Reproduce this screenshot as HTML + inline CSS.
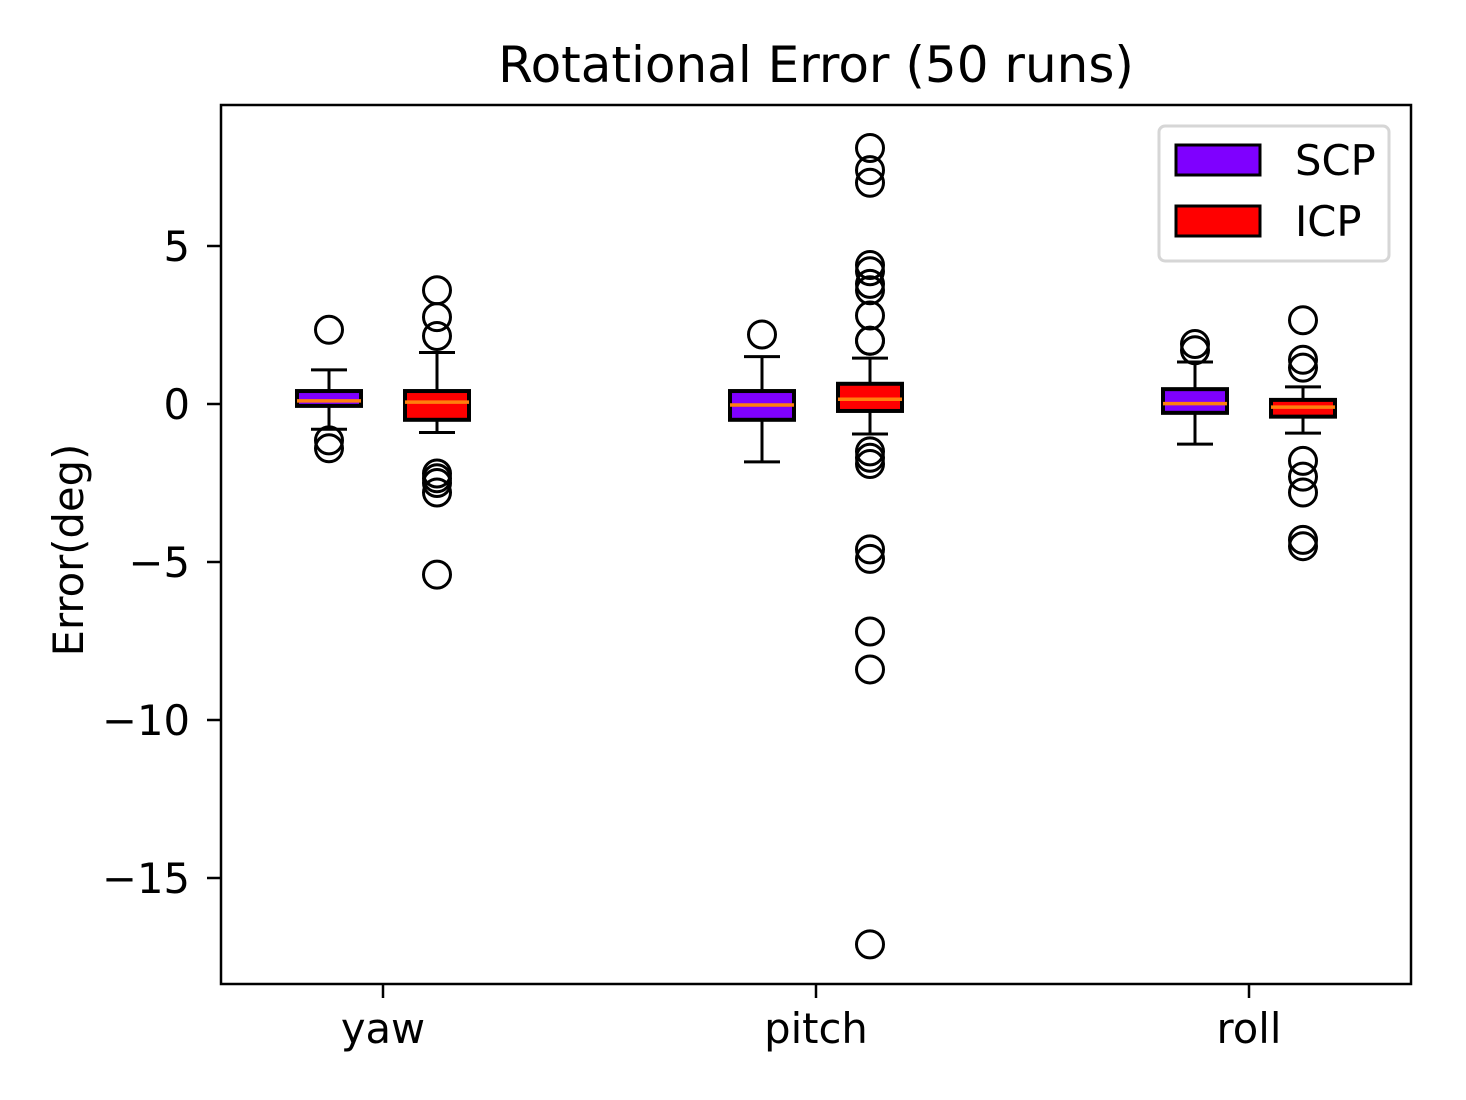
<!DOCTYPE html>
<html><head><meta charset="utf-8"><style>
html,body{margin:0;padding:0;background:#fff;}
svg{display:block;font-family:"DejaVu Sans","Liberation Sans",sans-serif;}
</style></head><body>
<svg id="chart" width="1466" height="1100" viewBox="0 0 1466 1100" xmlns="http://www.w3.org/2000/svg">
<rect x="0" y="0" width="1466" height="1100" fill="#fff"/>
<text x="816" y="82" font-size="50" text-anchor="middle">Rotational Error (50 runs)</text>
<g id="plot"></g>
<rect x="221" y="105" width="1190" height="879" fill="none" stroke="#000" stroke-width="2.5"/>
<text transform="translate(83,550) rotate(-90)" font-size="41.7" text-anchor="middle">Error(deg)</text>
<g>
<rect x="1159" y="126" width="230" height="135" rx="6" fill="#fff" stroke="#d6d6d6" stroke-width="3"/>
<rect x="1176" y="145" width="84" height="30" fill="#7f00ff" stroke="#000" stroke-width="3"/>
<text x="1295" y="175" font-size="41.7">SCP</text>
<rect x="1176" y="206" width="84" height="30" fill="#ff0000" stroke="#000" stroke-width="3"/>
<text x="1295" y="236" font-size="41.7">ICP</text>
</g>
</svg>
<script>
const categories = ["yaw","pitch","roll"];
const seriesNames = ["SCP","ICP"];
const seriesColors = ["#7f00ff","#ff0000"];
const scpStats = [
 {q1:-0.06,med:0.1,q3:0.41,lo:-0.8,hi:1.08},
 {q1:-0.5,med:-0.03,q3:0.41,lo:-1.83,hi:1.5},
 {q1:-0.28,med:0.01,q3:0.47,lo:-1.27,hi:1.33}
];
const icpStats = [
 {q1:-0.5,med:0.06,q3:0.41,lo:-0.9,hi:1.63},
 {q1:-0.22,med:0.15,q3:0.64,lo:-0.95,hi:1.45},
 {q1:-0.4,med:-0.1,q3:0.13,lo:-0.92,hi:0.54}
];
const scpOutliers = [[2.35,-1.15,-1.4],[2.2],[1.9,1.7]];
const icpOutliers = [
 [3.6,2.75,2.15,-2.2,-2.35,-2.5,-2.8,-5.4],
 [8.1,7.4,7.0,4.4,4.2,3.8,3.6,2.8,2.0,2.0,-1.5,-1.7,-1.9,-4.6,-4.9,-7.2,-8.4,-17.1],
 [2.65,1.4,1.15,-1.8,-2.3,-2.8,-4.3,-4.5]
];
const yTicks = [5,0,-5,-10,-15];

const NS="http://www.w3.org/2000/svg";
const g=document.getElementById('plot');
function yS(v){return 404-v*31.6;}
function xS(i){return 383+i*433;}
function el(t,a){const e=document.createElementNS(NS,t);for(const k in a)e.setAttribute(k,a[k]);g.appendChild(e);return e;}
yTicks.forEach(t=>{
 const y=yS(t);
 const l=el('line',{x1:207,x2:221,y1:y,y2:y,stroke:'#000','stroke-width':2.5});
 
 
 const tx=el('text',{x:190,y:y+15,'font-size':41.7,'text-anchor':'end'});
 tx.textContent=(t<0?'\u2212'+(-t):String(t));
 
 
});
categories.forEach((c,i)=>{
 const x=xS(i);
 const l=el('line',{x1:x,x2:x,y1:984,y2:998,stroke:'#000','stroke-width':2.5});
 
 
 const tx=el('text',{x:x,y:1043,'font-size':41.7,'text-anchor':'middle'});
 tx.textContent=c;
 
 
});
function drawBox(cx,s,color,outs,name){
 const grp=el('g',{});
 
 
 const add=(t,a)=>{const e=document.createElementNS(NS,t);for(const k in a)e.setAttribute(k,a[k]);grp.appendChild(e);return e;};
 const w=32,cw=18;
 add('line',{x1:cx,x2:cx,y1:yS(s.q3),y2:yS(s.hi),stroke:'#000','stroke-width':3});
 add('line',{x1:cx,x2:cx,y1:yS(s.q1),y2:yS(s.lo),stroke:'#000','stroke-width':3});
 add('line',{x1:cx-cw,x2:cx+cw,y1:yS(s.hi),y2:yS(s.hi),stroke:'#000','stroke-width':3});
 add('line',{x1:cx-cw,x2:cx+cw,y1:yS(s.lo),y2:yS(s.lo),stroke:'#000','stroke-width':3});
 add('rect',{x:cx-w,y:yS(s.q3),width:2*w,height:yS(s.q1)-yS(s.q3),fill:color,stroke:'#000','stroke-width':4});
 add('line',{x1:cx-w,x2:cx+w,y1:yS(s.med),y2:yS(s.med),stroke:'#ff7f0e','stroke-width':3.5});
 outs.forEach(v=>{
  const c=add('circle',{cx:cx,cy:yS(v),r:13.5,fill:'none',stroke:'#000','stroke-width':3});
  
  
 });
}
categories.forEach((c,i)=>{
 drawBox(xS(i)-54,scpStats[i],seriesColors[0],scpOutliers[i],c+'-scp');
 drawBox(xS(i)+54,icpStats[i],seriesColors[1],icpOutliers[i],c+'-icp');
});
</script>
</body></html>
